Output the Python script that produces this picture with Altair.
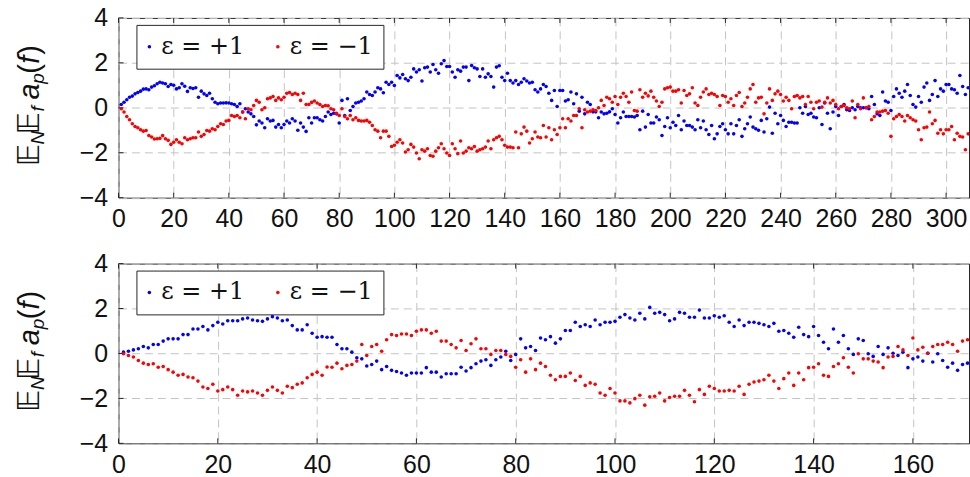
import altair as alt
import pandas as pd

# Legend entries and their colours
SERIES = ["ε = +1", "ε = −1"]
COLORS = ["#0000ff", "#ff0000"]

# Upper panel: averages for n = 1 .. 308
top_blue = [
    0.15, 0.25, 0.36, 0.47, 0.52, 0.62, 0.68, 0.74, 0.83, 0.84, 0.80, 0.92, 0.98, 1.07, 1.14, 1.10, 1.07, 0.95, 1.04, 1.00,
    0.84, 0.89, 1.07, 0.96, 0.73, 0.89, 0.86, 0.89, 0.47, 0.74, 0.62, 0.55, 0.65, 0.40, 0.25, 0.18, 0.21, 0.21, 0.22, 0.21,
    0.18, 0.15, 0.06, 0.18, -0.19, -0.04, -0.19, -0.27, -0.39,
    -0.76, -0.59, -0.68, -0.89, -0.49, -0.59, -0.56, -0.86, -0.74, -0.89, -0.74, -0.59, -0.68, -0.49, -0.59, -1.00, -0.68,
    -0.86, -1.05, -0.44, -0.68, -0.44, -0.44, -0.53, -0.59, -0.39, -0.19, -0.30, -0.24, -0.27, -0.68, 0.33, -0.34, 0.40,
    -0.12, 0.06, 0.21, 0.25, 0.30, 0.40, 0.70, 0.59, 0.55, 0.70, 0.89, 0.84, 0.67, 1.14, 1.04, 1.14,
    0.99, 1.44, 1.33, 1.48, 1.29, 1.21, 1.36, 1.73, 1.59, 1.69, 1.19, 1.78, 1.81, 1.59, 1.93, 1.69, 1.54, 1.96, 2.10, 1.84,
    1.84, 1.59, 1.36, 1.69, 1.63, 1.81, 1.81, 1.21, 1.88, 1.78, 1.73, 1.39, 1.73, 1.36, 1.51, 1.39, 0.92, 1.81, 1.87, 1.36,
    1.21, 1.54, 1.21, 1.10, 1.21, 1.04, 1.14, 1.29, 1.19, 1.10, 1.14,
    0.80, 0.70, 0.84, 1.04, 0.95, 0.65, 0.33, 0.77, 0.06, 0.77, 0.77, 0.30, 0.36, 0.70, 0.18, 0.62, -0.15, 0.47, -0.27,
    0.25, 0.15, -0.18, -0.18, -0.44, -0.19, -0.27, -0.24, -0.18, -0.04, -0.30, -0.68, -0.44, -0.19, -0.39, -0.39, -0.39,
    -0.41, -0.34, -0.98, -0.15, -0.86, -0.30, -0.68, -0.68, -0.41, -0.53, -1.23, -0.83, -0.44, -0.89, -0.64,
    -0.79, -0.34, -0.98, -0.59, -0.79, -0.79, -0.86, -0.98, -0.53, -0.89, -0.59, -0.98, -1.19, -0.79, -1.38, -1.16, -0.83,
    -0.71, -0.98, -1.16, -0.71, -1.16, -0.79, -0.53, -1.27, -0.93, -0.71, -0.41, -0.86, -0.93, -1.00, -0.56, -1.08, -0.49,
    0.03, -1.13, -0.24, -0.71, -0.34, -0.56, -0.83, -0.64, -0.64, -0.68, -0.68, 0.00, -0.24, 0.06, -0.30, -0.24, -0.41,
    -0.44, 0.00, -0.74, 0.21, -0.24, -0.93, -0.19, 0.06, -0.34, 0.06, 0.15, -0.09, -0.12, 0.00, -0.09, 0.06, 0.00, 0.00,
    0.00, -0.04, 0.50, 0.15, -0.27, -0.34, 0.70, 0.30, 0.25, -0.12, 0.50, 0.84, 0.65, 0.47, 0.74, 1.04, 0.55, 0.15, 0.03,
    0.50, 0.25, 0.92, 1.10, 0.33, 0.59, 1.21, 0.50, 0.84, 0.74, 1.04, 1.04, 0.84, 0.80, 0.65, 1.44, 0.95, 0.59, 0.89,
]
top_red = [
    -0.04, -0.19, -0.39, -0.53, -0.71, -0.83, -0.89, -0.98, -1.04, -1.01, -1.23, -1.30, -1.39, -1.38, -1.36, -1.24, -1.38,
    -1.45, -1.63, -1.53, -1.42, -1.53, -1.60, -1.33, -1.42, -1.38, -1.33, -1.33, -1.08, -1.27, -1.19, -1.01, -1.04, -0.93,
    -0.98, -0.83, -0.71, -0.74, -0.59, -0.56, -0.34, -0.39, -0.34, -0.44, -0.19, -0.49, -0.04, -0.09, 0.10,
    0.33, 0.25, -0.09, 0.00, 0.40, 0.44, 0.50, 0.33, 0.44, 0.36, 0.47, 0.65, 0.68, 0.59, 0.65, 0.59, 0.33, 0.65, 0.15, 0.15,
    0.24, 0.30, 0.21, 0.15, 0.06, 0.10, 0.09, -0.04, -0.09, -0.24, -0.34, -0.04, -0.39, -0.49, -0.34, -0.53, -0.44, -0.56,
    -0.59, -0.59, -0.56, -0.64, -0.79, -0.98, -1.04, -1.33, -1.04, -1.04, -1.27, -1.72,
    -1.67, -1.53, -1.42, -1.57, -1.97, -1.87, -1.63, -1.75, -2.01, -2.27, -1.87, -1.93, -1.82, -2.12, -2.16, -1.93, -1.78,
    -1.60, -1.82, -2.01, -2.12, -1.60, -1.82, -2.04, -1.48, -2.01, -1.93, -1.78, -1.82, -1.72, -1.93, -1.87, -1.82, -1.75,
    -1.48, -1.82, -1.42, -1.33, -1.27, -1.42, -1.67, -1.75, -1.75, -1.78, -1.08, -1.78, -1.16, -0.86, -1.04, -1.57, -1.38,
    -1.08, -1.30, -1.33, -0.79, -1.30, -0.89, -1.42, -0.98, -1.19, -0.89, -0.49, -0.89, -0.49, -0.59, -0.34, -0.34, -0.04,
    -0.89, -0.09, -0.19, -0.15, -0.09, -0.12, 0.00, 0.33, 0.10, 0.47, 0.40, 0.25, 0.50, 0.15, 0.47, 0.65, 0.50, 0.25, 0.70,
    -0.12, -0.15, 0.80, 0.47, 0.65, 0.53, 0.74, 0.47, 0.30, 0.06, 0.25, 0.84, 0.89, 0.92, 0.74,
    0.74, 0.80, 0.21, 0.77, 0.55, 0.62, 0.89, 0.21, 0.10, 0.47, 0.70, 0.84, 0.59, 0.65, 0.59, 0.50, 0.10, 0.55, 0.50, 0.25,
    0.40, 0.10, 0.55, 0.68, 0.06, 0.21, 0.47, 0.84, 1.04, 0.25, 0.44, 0.47, -0.27, 0.21, 0.84, 0.33, 0.62, 0.74, 0.59, 0.30,
    0.47, 0.33, -0.04, 0.50, 0.55, 0.44, 0.50, 0.15, 0.50, 0.25, -0.04,
    0.25, 0.30, 0.03, 0.25, 0.44, 0.21, 0.33, 0.15, -0.04, 0.06, 0.10, 0.00, -0.04, 0.30, -0.44, 0.15, -0.04, 0.44, 0.00,
    0.06, -0.53, -0.39, -0.19, -0.19, -0.15, -0.12, -0.24, -1.27, -0.49, -0.39, -0.30, -0.39, -0.59, -0.34, -0.44, -0.53,
    -0.59, -0.98, -1.42, -0.89, -0.86, -0.19, -0.71, -0.56, -1.13, -0.98, -1.16, -0.98, -0.98, -0.83, -1.42, -1.13, -1.27,
    -1.30, -1.87, -1.16,
]

# Lower panel: averages for n = 1 .. 171
bottom_blue = [
    0.06, 0.10, 0.16, 0.21, 0.31, 0.25, 0.40, 0.40, 0.55, 0.65, 0.65, 0.65, 0.84, 0.84, 1.09, 1.09, 1.20, 1.05, 1.24, 1.39,
    1.31, 1.46, 1.46, 1.46, 1.54, 1.58, 1.49, 1.46, 1.43, 1.54, 1.64, 1.58, 1.46, 1.49, 1.24, 1.05, 1.05, 1.28, 0.90, 0.72,
    0.75,
    0.72, 0.72, 0.40, 0.21, 0.21, 0.06, -0.19, -0.24, -0.56, -0.49, -0.34, -0.72, -0.58, -0.75, -0.80, -0.87, -0.97, -0.87,
    -0.87, -0.87, -0.63, -0.83, -0.83, -1.05, -0.90, -0.90, -0.90, -0.61, -0.78, -0.63, -0.46, -0.34, -0.28, -0.53, -0.28,
    -0.16, 0.10, -0.31, -0.04, 0.65, 0.25, 0.31, 0.13, 0.69, 0.61, 0.75, 0.46, 0.65, 1.02, 1.02, 1.39, 1.20, 1.28, 1.20,
    1.49, 1.28, 1.39, 1.39, 1.43, 1.61, 1.73, 1.58, 1.49, 1.79,
    1.54, 2.05, 1.79, 1.83, 1.73, 1.46, 1.54, 1.83, 1.79, 1.61, 1.61, 1.93, 1.58, 1.58, 1.68, 1.61, 1.68, 1.39, 1.20, 1.49,
    1.24, 1.39, 1.39, 1.34, 1.28, 1.20, 1.34, 0.99, 1.02, 0.90, 0.72, 1.17, 0.84, 0.75, 1.20, 0.80, 0.50, 0.21, 1.09, 0.50,
    0.80, 0.21, -0.04, 0.65, 0.58, -0.01, -0.13, 0.31, -0.04, 0.25, 0.01, -0.09, 0.06, -0.63, -0.24, -0.16, -0.34, 0.01,
    -0.38, -0.01, -0.31, -0.61, -0.43, -0.75, -0.49, -0.43,
]
bottom_red = [
    -0.01, -0.09, -0.16, -0.31, -0.43, -0.49, -0.46, -0.61, -0.58, -0.72, -0.83, -0.97, -0.93, -1.05, -1.08, -1.23, -1.49,
    -1.56, -1.37, -1.67, -1.61, -1.49, -1.61, -1.86, -1.67, -1.71, -1.67, -1.76, -1.86, -1.64, -1.49, -1.64, -1.76, -1.46,
    -1.52, -1.37, -1.31, -1.08, -0.93, -0.83, -0.97,
    -0.60, -0.61, -0.43, -0.68, -0.53, -0.49, -0.34, 0.40, -0.09, 0.31, 0.40, 0.10, 0.61, 0.84, 0.80, 0.87, 0.87, 0.80,
    0.99, 1.05, 1.05, 0.90, 0.99, 0.55, 0.55, 0.40, 0.25, 0.58, 0.13, 0.43, 0.65, 0.21, 0.21, -0.04, 0.13, 0.13, -0.04,
    -0.13, -0.61, -0.28, -0.83, -0.24, -0.72, -0.43, -0.58, -0.97, -1.17, -1.02, -1.02, -0.87, -1.20, -1.02, -1.42, -1.31,
    -1.37, -1.76, -1.86, -1.56, -1.76, -2.11, -2.11, -2.20, -2.01, -1.86,
    -2.30, -1.93, -1.90, -1.76, -2.11, -1.96, -1.90, -1.90, -1.64, -1.86, -2.15, -1.61, -1.82, -1.46, -1.56, -1.67, -1.67,
    -1.64, -1.67, -1.46, -1.82, -1.37, -1.27, -1.23, -1.17, -0.97, -1.23, -1.56, -1.12, -0.87, -1.42, -0.87, -1.17, -0.63,
    -0.61, -0.46, -0.97, -1.02, -0.58, -0.46, -0.19, -0.61, -0.87, -0.01, -0.24, -0.24, -0.34, -0.38, -0.63, -0.16, -0.13,
    0.31, 0.16, -0.09, 0.69, 0.16, 0.28, 0.01, 0.31, 0.40, 0.40, 0.50, 0.40, 0.10, 0.55, 0.61,
]

top_xticks = list(range(0, 301, 20))
bottom_xticks = list(range(0, 161, 20))
y_ticks = [-4, -2, 0, 2, 4]

TOP_XMAX = 308.3
BOTTOM_XMAX = 171.3
PLOT_W = 854
PLOT_H = 180.5
TICK_LEN = 5

FRAME = "#262626"
GRID = "#c4c4c4"
TICK_FONT = "Liberation Sans"
LEGEND_FONT = "DejaVu Serif"

# y-axis label pieces: (text, font, size, style, baseline offset from the plot, start along the axis)
Y_LABEL = [
    ("𝔼", "DejaVu Sans", 31, "normal", -80, 149),
    ("N", "Liberation Sans", 19, "italic", -75, 127),
    ("𝔼", "DejaVu Sans", 31, "normal", -80, 117),
    ("f", "Liberation Sans", 19, "italic", -75, 94),
    ("a", "Liberation Sans", 29, "italic", -80, 82),
    ("p", "Liberation Sans", 19, "italic", -75, 66),
    ("(", "Liberation Sans", 29, "normal", -80, 56),
    ("f", "Liberation Sans", 29, "italic", -80, 46),
    (")", "Liberation Sans", 29, "normal", -80, 37),
]


def table(blue, red):
    rows = [{"n": i, "value": v, "series": SERIES[0]} for i, v in enumerate(blue, start=1)]
    rows += [{"n": i, "value": v, "series": SERIES[1]} for i, v in enumerate(red, start=1)]
    return pd.DataFrame(rows)


def panel(blue, red, xmax, xticks):
    x_axis = alt.Axis(values=xticks, title=None, grid=True, ticks=False, domain=False,
                      labelFlush=False, labelOverlap=False, labelPadding=9, format="d")
    y_axis = alt.Axis(values=y_ticks, title=None, grid=True, ticks=False, domain=False,
                      labelFlush=False, labelOverlap=False, labelPadding=11, format="d")
    x_enc = alt.X("n:Q", scale=alt.Scale(domain=[0, xmax], nice=False, zero=False), axis=x_axis)
    y_enc = alt.Y("value:Q", scale=alt.Scale(domain=[-4, 4], nice=False, zero=False), axis=y_axis)

    points = alt.Chart(table(blue, red)).mark_circle(size=13, opacity=1, clip=True).encode(
        x=x_enc,
        y=y_enc,
        color=alt.Color(
            "series:N",
            scale=alt.Scale(domain=SERIES, range=COLORS),
            legend=alt.Legend(
                title=None, orient="none", legendX=18, legendY=7, direction="horizontal",
                symbolType="circle", symbolSize=13, symbolStrokeWidth=0, symbolOffset=-9,
                labelFont=LEGEND_FONT, labelFontSize=24, labelColor="#111111", labelOffset=0,
                columnPadding=30, padding=10, strokeColor=FRAME, fillColor="white", cornerRadius=0,
            ),
        ),
        order=alt.Order("series:N"),
    )

    # inward tick marks on the frame
    xt = alt.Chart(pd.DataFrame({"n": xticks}))
    yt = alt.Chart(pd.DataFrame({"value": y_ticks}))
    ticks_bottom = xt.mark_rule(color=FRAME, strokeWidth=1).encode(
        x=x_enc, y=alt.value(PLOT_H), y2=alt.value(PLOT_H - TICK_LEN))
    ticks_top = xt.mark_rule(color=FRAME, strokeWidth=1).encode(
        x=x_enc, y=alt.value(0), y2=alt.value(TICK_LEN))
    ticks_left = yt.mark_rule(color=FRAME, strokeWidth=1).encode(
        y=y_enc, x=alt.value(0), x2=alt.value(TICK_LEN))

    label_layers = []
    for text, font, size, style, bx, start in Y_LABEL:
        label_layers.append(
            alt.Chart(pd.DataFrame({"k": [0]})).mark_text(
                text=text, font=font, fontSize=size, fontStyle=style, angle=270,
                align="left", baseline="alphabetic", color="#111111",
            ).encode(x=alt.value(bx), y=alt.value(start))
        )

    return alt.layer(ticks_bottom, ticks_top, ticks_left, points, *label_layers).properties(
        width=PLOT_W, height=PLOT_H)


top = panel(top_blue, top_red, TOP_XMAX, top_xticks)
bottom = panel(bottom_blue, bottom_red, BOTTOM_XMAX, bottom_xticks)

chart = (
    alt.vconcat(top, bottom, spacing=65.7, bounds="flush")
    .resolve_scale(color="independent")
    .resolve_legend(color="independent")
    .properties(padding={"left": 13, "top": 4, "right": 0, "bottom": 0})
    .configure_view(stroke=FRAME, strokeWidth=1)
    .configure_axis(labelFont=TICK_FONT, labelFontSize=25, labelColor="#111111",
                    gridColor=GRID, gridDash=[8, 5], gridWidth=1)
)

chart.save("out.html", embed_options={"renderer": "svg", "actions": False})
